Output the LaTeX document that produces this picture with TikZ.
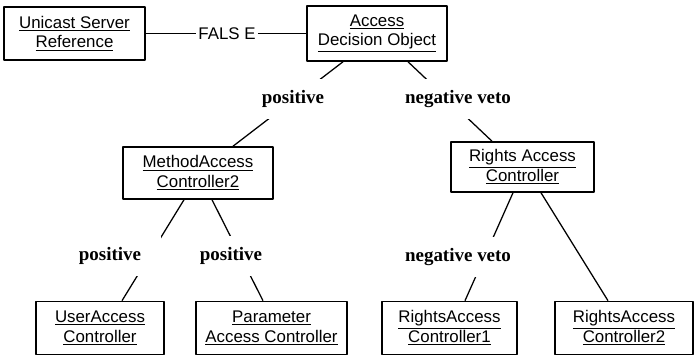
\documentclass[tikz,border=0pt]{standalone}
\usepackage{fontspec}
\setmainfont{Liberation Serif}
\setsansfont{Liberation Sans}
\begin{document}
\begin{tikzpicture}[line join=round,
    box/.style={draw,line width=1.1pt,inner sep=0pt,minimum height=1.325cm,align=center,
      font=\sffamily\fontsize{12}{14}\selectfont},
    lbl/.style={fill=white,inner xsep=3pt,inner ysep=8pt,font=\bfseries\fontsize{13.5}{16}\selectfont},
    conn/.style={line width=.9pt}]
  \useasboundingbox (0,0) rectangle (17.375,-8.9);
  % top row
  \node[box,minimum width=3.525cm] (usr) at (1.8625,-.8375) {\underline{Unicast Server}\\\underline{Reference}};
  \node[box,minimum width=3.5cm,minimum height=1.375cm] (ado) at (9.425,-.8375) {\underline{Access}\\\underline{Decision Object}};
  \node[font=\sffamily\fontsize{12}{14}\selectfont,inner xsep=1.5pt] (fls) at (5.675,-.8375) {FALS E};
  % middle row
  \node[box,minimum width=3.75cm,minimum height=1.3cm] (mac) at (4.95,-4.325) {\underline{MethodAccess}\\\underline{Controller2}};
  \node[box,minimum width=3.575cm,minimum height=1.25cm] (rac) at (13.0625,-4.175) {\underline{Rights Access}\\\underline{Controller}};
  % bottom row
  \node[box,minimum width=3.2cm] (uac) at (2.5,-8.2) {\underline{UserAccess}\\\underline{Controller}};
  \node[box,minimum width=3.775cm] (pac) at (6.7875,-8.2) {\underline{Parameter}\\\underline{Access Controller}};
  \node[box,minimum width=3.375cm] (rac1) at (11.2375,-8.2) {\underline{RightsAccess}\\\underline{Controller1}};
  \node[box,minimum width=3.45cm] (rac2) at (15.6,-8.2) {\underline{RightsAccess}\\\underline{Controller2}};
  % connectors
  \draw[conn] (usr) -- (fls) -- (ado);
  \draw[conn] ([xshift=-.85cm]ado.south) -- ([xshift=.875cm]mac.north);
  \draw[conn] ([xshift=.775cm]ado.south) -- ([xshift=-.7625cm]rac.north);
  \draw[conn] ([xshift=-.35cm]mac.south) -- ([xshift=.55cm]uac.north);
  \draw[conn] ([xshift=.35cm]mac.south) -- ([xshift=-.2125cm]pac.north);
  \draw[conn] ([xshift=-.2375cm]rac.south) -- ([xshift=.3875cm]rac1.north);
  \draw[conn] ([xshift=.4625cm]rac.south) -- ([xshift=-.4cm]rac2.north);
  % labels over the connectors
  \node[lbl] (pos1) at (7.325,-2.475) {positive};
  \node[lbl] (neg1) at (11.45,-2.475) {negative veto};
  \node[lbl,inner xsep=14pt] (pos2) at (2.75,-6.4) {positive};
  \node[lbl] (pos3) at (5.775,-6.4) {positive};
  \node[lbl] (neg2) at (11.45,-6.425) {negative veto};
\end{tikzpicture}
\end{document}
